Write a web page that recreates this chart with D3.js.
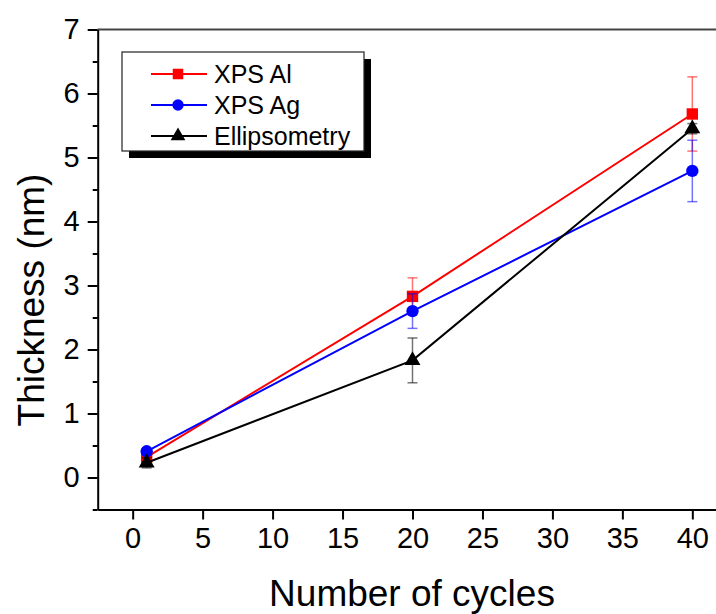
<!DOCTYPE html>
<html>
<head>
<meta charset="utf-8">
<script src="https://cdn.jsdelivr.net/npm/d3@7"></script>
<style>
  body { margin: 0; background: #fff; }
  svg { display: block; font-family: Arial, "Liberation Sans", sans-serif; }
</style>
</head>
<body>
<div id="chart-area"></div>
<script>
// data
const cycles = [1, 20, 40]
const seriesNames = ["XPS Al", "XPS Ag", "Ellipsometry"]
const xpsAl = [0.32, 2.83, 5.68]
const xpsAlErr = [0.05, 0.29, 0.58]
const xpsAg = [0.41, 2.6, 4.79]
const xpsAgErr = [0.04, 0.27, 0.48]
const ellipso = [0.23, 1.83, 5.45]
const ellipsoErr = [0.08, 0.35, 0.08]
const xTicks = [0, 5, 10, 15, 20, 25, 30, 35, 40]
const yTicks = [0, 1, 2, 3, 4, 5, 6, 7]

const width = 716, height = 614

const svg = d3.select("#chart-area").append("svg")
    .attr("width", width)
    .attr("height", height)

const x = d3.scaleLinear().domain([-2.5, 42.5]).range([97.7, 727.3])
const y = d3.scaleLinear().domain([-0.5, 7]).range([509.5, 29.5])

// frame top line
svg.append("line")
    .attr("x1", x(-2.5)).attr("x2", x(42.5))
    .attr("y1", y(7)).attr("y2", y(7))
    .attr("stroke", "#444").attr("stroke-width", 2)

// x axis
const xAxis = svg.append("g")
    .attr("transform", `translate(0,${y(-0.5)})`)
    .call(d3.axisBottom(x).tickValues(xTicks).tickSize(10).tickPadding(8).tickSizeOuter(0))
xAxis.select(".domain").attr("stroke-width", 2)
xAxis.selectAll(".tick line").attr("stroke-width", 2)
xAxis.selectAll("text").attr("font-size", 29).attr("font-family", "Arial, 'Liberation Sans', sans-serif")

// y axis minor ticks
const yMinor = d3.range(-0.5, 7, 1)
svg.append("g")
    .attr("transform", `translate(${x(-2.5)},0)`)
    .call(d3.axisLeft(y).tickValues(yMinor).tickSize(5).tickFormat("").tickSizeOuter(0))
    .call(g => g.select(".domain").remove())
    .selectAll(".tick line").attr("stroke-width", 2)

const yAxis = svg.append("g")
    .attr("transform", `translate(${x(-2.5)},0)`)
    .call(d3.axisLeft(y).tickValues(yTicks).tickSize(10).tickPadding(8).tickSizeOuter(0))
yAxis.select(".domain").attr("stroke-width", 2)
yAxis.selectAll(".tick line").attr("stroke-width", 2)
yAxis.selectAll("text").attr("font-size", 29).attr("font-family", "Arial, 'Liberation Sans', sans-serif")

// axis titles
svg.append("text")
    .attr("x", 412).attr("y", 606)
    .attr("text-anchor", "middle")
    .attr("font-size", 37)
    .text("Number of cycles")

svg.append("text")
    .attr("transform", "translate(44,300) rotate(-90)")
    .attr("text-anchor", "middle")
    .attr("font-size", 37)
    .text("Thickness (nm)")

const series = [
  { name: seriesNames[0], vals: xpsAl, err: xpsAlErr, color: "#ff0000", shape: d3.symbolSquare, size: 130 },
  { name: seriesNames[1], vals: xpsAg, err: xpsAgErr, color: "#0000ff", shape: d3.symbolCircle, size: 120 },
  { name: seriesNames[2], vals: ellipso, err: ellipsoErr, color: "#000000", shape: d3.symbolTriangle, size: 110 }
]

const line = d3.line().x(d => x(d[0])).y(d => y(d[1]))

series.forEach(s => {
  const pts = cycles.map((c, i) => [c, s.vals[i], s.err[i]])
  // error bars
  const eb = svg.append("g").attr("stroke", s.color).attr("stroke-width", 1.5).attr("stroke-opacity", 0.55)
  pts.forEach(p => {
    eb.append("line").attr("x1", x(p[0])).attr("x2", x(p[0]))
        .attr("y1", y(p[1] - p[2])).attr("y2", y(p[1] + p[2]))
    eb.append("line").attr("x1", x(p[0]) - 5).attr("x2", x(p[0]) + 5)
        .attr("y1", y(p[1] + p[2])).attr("y2", y(p[1] + p[2]))
    eb.append("line").attr("x1", x(p[0]) - 5).attr("x2", x(p[0]) + 5)
        .attr("y1", y(p[1] - p[2])).attr("y2", y(p[1] - p[2]))
  })
  svg.append("path")
      .attr("d", line(pts))
      .attr("fill", "none")
      .attr("stroke", s.color)
      .attr("stroke-width", 2)
  svg.append("g").selectAll("path").data(pts).join("path")
      .attr("transform", d => `translate(${x(d[0])},${y(d[1])})`)
      .attr("d", d3.symbol(s.shape, s.size))
      .attr("fill", s.color)
})

// legend
const lg = svg.append("g")
lg.append("rect")
    .attr("x", 129).attr("y", 59).attr("width", 242).attr("height", 99)
    .attr("fill", "#000")
lg.append("rect")
    .attr("x", 122).attr("y", 52).attr("width", 242).attr("height", 99)
    .attr("fill", "#fff").attr("stroke", "#222").attr("stroke-width", 1.2)

series.forEach((s, i) => {
  const ly = 74 + i * 31
  lg.append("line")
      .attr("x1", 151).attr("x2", 207).attr("y1", ly).attr("y2", ly)
      .attr("stroke", s.color).attr("stroke-width", 2)
  lg.append("path")
      .attr("transform", `translate(178,${ly})`)
      .attr("d", d3.symbol(s.shape, s.size * 0.85))
      .attr("fill", s.color)
  lg.append("text")
      .attr("x", 214).attr("y", ly + 9)
      .attr("font-size", 25)
      .text(s.name)
})
</script>
</body>
</html>
